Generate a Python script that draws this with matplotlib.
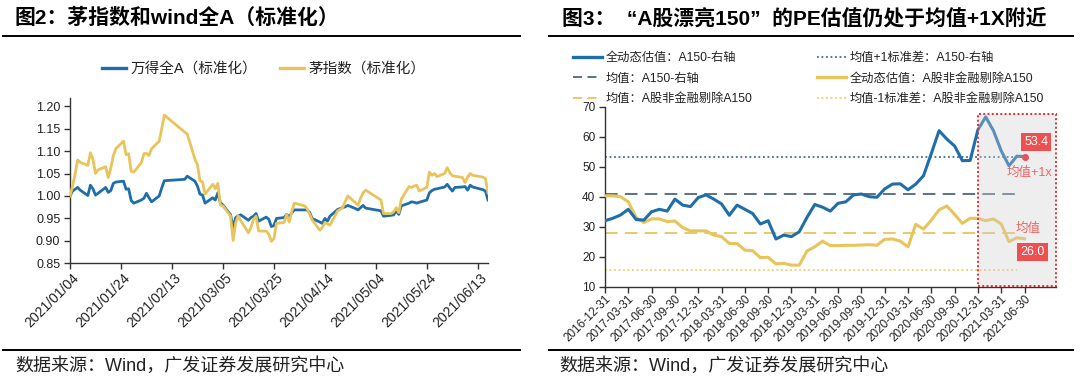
import numpy as np
import pandas as pd
import matplotlib
matplotlib.use("Agg")
import matplotlib.pyplot as plt
import matplotlib.dates as mdates
import matplotlib.ticker as mticker
import matplotlib.transforms as mtransforms
from matplotlib.patches import Rectangle
from matplotlib.lines import Line2D

plt.rcParams['font.family'] = ['Liberation Sans', 'Noto Sans CJK SC']

# ---------------- left chart data ----------------
trade_dates = [
    "2021-01-04", "2021-01-05", "2021-01-06", "2021-01-07", "2021-01-08", "2021-01-11", "2021-01-12",
    "2021-01-13", "2021-01-14", "2021-01-15", "2021-01-18", "2021-01-19", "2021-01-20", "2021-01-21",
    "2021-01-22", "2021-01-25", "2021-01-26", "2021-01-27", "2021-01-28", "2021-01-29",
    "2021-02-01", "2021-02-02", "2021-02-03", "2021-02-04", "2021-02-05", "2021-02-08", "2021-02-09",
    "2021-02-10", "2021-02-18", "2021-02-19", "2021-02-22", "2021-02-23", "2021-02-24", "2021-02-25",
    "2021-02-26",
    "2021-03-01", "2021-03-02", "2021-03-03", "2021-03-04", "2021-03-05", "2021-03-08", "2021-03-09",
    "2021-03-10", "2021-03-11", "2021-03-12", "2021-03-15", "2021-03-16", "2021-03-17", "2021-03-18",
    "2021-03-19", "2021-03-22", "2021-03-23", "2021-03-24", "2021-03-25", "2021-03-26", "2021-03-29",
    "2021-03-30", "2021-03-31",
    "2021-04-01", "2021-04-02", "2021-04-06", "2021-04-07", "2021-04-08", "2021-04-09", "2021-04-12",
    "2021-04-13", "2021-04-14", "2021-04-15", "2021-04-16", "2021-04-19", "2021-04-20", "2021-04-21",
    "2021-04-22", "2021-04-23", "2021-04-26", "2021-04-27", "2021-04-28", "2021-04-29", "2021-04-30",
    "2021-05-06", "2021-05-07", "2021-05-10", "2021-05-11", "2021-05-12", "2021-05-13", "2021-05-14",
    "2021-05-17", "2021-05-18", "2021-05-19", "2021-05-20", "2021-05-21", "2021-05-24", "2021-05-25",
    "2021-05-26", "2021-05-27", "2021-05-28", "2021-05-31",
    "2021-06-01", "2021-06-02", "2021-06-03", "2021-06-04", "2021-06-07", "2021-06-08", "2021-06-09",
    "2021-06-10", "2021-06-11", "2021-06-15", "2021-06-16", "2021-06-17",
]

wind_all_a = [
    1.000, 1.011, 1.015, 1.019, 1.013, 1.001, 1.024, 1.016, 1.002, 1.006, 1.019, 1.008, 1.012, 1.028,
    1.031, 1.033, 1.015, 1.016, 0.990, 0.984,
    0.991, 0.995, 1.006, 0.996, 0.987, 1.000, 1.018, 1.034, 1.037, 1.044, 1.033, 1.022, 1.004, 1.002,
    0.984,
    0.996, 0.991, 1.007, 0.985, 0.980, 0.958, 0.930, 0.952, 0.956, 0.958, 0.946, 0.952, 0.955, 0.961,
    0.944, 0.953, 0.948, 0.932, 0.934, 0.950, 0.952, 0.959, 0.954,
    0.962, 0.969, 0.969, 0.969, 0.964, 0.950, 0.942, 0.939, 0.950, 0.944, 0.955, 0.970, 0.972, 0.974,
    0.976, 0.979, 0.972, 0.969, 0.974, 0.979, 0.973,
    0.967, 0.955, 0.957, 0.958, 0.967, 0.959, 0.978, 0.984, 0.987, 0.986, 0.984, 0.986, 0.991, 1.007,
    1.012, 1.015, 1.016, 1.020,
    1.026, 1.018, 1.011, 1.019, 1.020, 1.021, 1.013, 1.024, 1.020, 1.014, 1.011, 0.991,
]

mao_index = [
    1.000, 1.022, 1.048, 1.080, 1.075, 1.068, 1.096, 1.082, 1.050, 1.058, 1.065, 1.041, 1.062, 1.090,
    1.105, 1.122, 1.092, 1.094, 1.055, 1.053,
    1.074, 1.094, 1.095, 1.090, 1.105, 1.122, 1.150, 1.180, 1.142, 1.138, 1.082, 1.070, 1.034, 1.031,
    1.004,
    1.026, 1.016, 1.028, 0.980, 0.978, 0.955, 0.901, 0.940, 0.956, 0.945, 0.918, 0.930, 0.948, 0.955,
    0.922, 0.922, 0.915, 0.899, 0.905, 0.939, 0.941, 0.959, 0.942,
    0.965, 0.984, 0.978, 0.972, 0.960, 0.947, 0.924, 0.930, 0.941, 0.938, 0.935, 0.967, 0.970, 0.974,
    0.988, 1.000, 0.985, 0.979, 0.995, 1.007, 1.013,
    0.991, 0.961, 0.961, 0.965, 0.974, 0.963, 0.993, 1.021, 1.019, 1.022, 1.024, 1.011, 1.019, 1.053,
    1.046, 1.050, 1.043, 1.050,
    1.063, 1.052, 1.045, 1.044, 1.041, 1.030, 1.042, 1.050, 1.046, 1.042, 1.039, 1.007,
]

left_labels = ["万得全A（标准化）", "茅指数（标准化）"]
left_yticks = [0.85, 0.90, 0.95, 1.00, 1.05, 1.10, 1.15, 1.20]

# ---------------- right chart data ----------------
month_ends = pd.date_range("2016-12-31", "2021-06-30", freq="ME")
pe_a150 = [
    32.0, 32.8, 33.9, 35.8, 32.4, 32.2, 35.0, 35.8, 35.2, 39.2, 37.2, 36.7, 39.7, 40.6, 39.2, 37.6,
    33.8, 37.2, 35.8, 34.4, 30.9, 32.0, 25.9, 27.2, 26.7, 28.3, 33.1, 37.4, 36.5, 35.2, 37.8, 38.3,
    40.6, 40.9, 40.0, 39.8, 42.6, 44.2, 44.3, 42.3, 44.2, 47.0, 54.4, 62.0, 59.2, 56.9, 52.0, 52.1,
    62.3, 66.6, 62.0, 55.3, 50.3, 53.5, 53.4,
]
pe_nonfin_ex150 = [
    40.3, 40.3, 40.0, 38.3, 33.1, 31.4, 32.6, 32.6, 31.7, 31.9, 29.7, 28.6, 28.6, 28.6, 27.2, 26.7,
    24.4, 24.4, 22.2, 22.0, 19.7, 19.8, 17.6, 17.8, 17.2, 17.2, 21.9, 23.3, 25.2, 23.7, 23.7, 23.8,
    23.8, 23.9, 24.0, 23.8, 25.8, 25.9, 25.2, 23.3, 30.8, 29.2, 32.2, 35.6, 36.9, 34.1, 31.1, 32.8,
    32.8, 32.0, 32.6, 30.9, 25.0, 26.3, 26.0,
]
a150_mean = 41.0
a150_plus1 = 53.2
nonfin_mean = 27.8
nonfin_minus1 = 15.6
right_labels_col1 = ["全动态估值：A150-右轴", "均值：A150-右轴", "均值：A股非金融剔除A150"]
right_labels_col2 = ["均值+1标准差：A150-右轴", "全动态估值：A股非金融剔除A150", "均值-1标准差：A股非金融剔除A150"]

# ---------------- styling ----------------
BLUE = "#1f6eaa"
YEL = "#e8c45a"
DASHBLUE = "#4d6782"
DOTBLUE = "#3d6b99"
DOTYEL = "#efcf6c"
RED = "#ec5050"
TXT = "#222222"

W, H = 1080, 388
fig = plt.figure(figsize=(W / 100, H / 100), dpi=100)


def fx(px):
    return px / W


def fy(py):
    return 1 - py / H


def hline(x0, x1, y, lw=1.4):
    fig.add_artist(Line2D([fx(x0), fx(x1)], [fy(y), fy(y)], color="black", lw=lw,
                          transform=fig.transFigure))


# titles and frame lines
fig.text(fx(15), fy(18), "图2：茅指数和wind全A（标准化）", fontsize=15, fontweight="bold",
         va="center", ha="left", color="black")
fig.text(fx(562), fy(18), "图3：  “A股漂亮150”  的PE估值仍处于均值+1X附近", fontsize=15,
         fontweight="bold", va="center", ha="left", color="black")
hline(3, 520, 36)
hline(549, 1073, 36)
hline(3, 520, 350)
hline(549, 1073, 350)
fig.text(fx(15), fy(366), "数据来源：Wind，广发证券发展研究中心", fontsize=13, va="center",
         ha="left", color=TXT)
fig.text(fx(559), fy(366), "数据来源：Wind，广发证券发展研究中心", fontsize=13, va="center",
         ha="left", color=TXT)

# ---------------- left axes ----------------
L_X0, L_X1, L_TOP, L_BOT = 70, 488, 98, 263.4
axL = fig.add_axes([fx(L_X0), fy(L_BOT), fx(L_X1 - L_X0), (L_BOT - L_TOP) / H])
dl = pd.to_datetime(trade_dates)
axL.plot(dl, wind_all_a, color=BLUE, lw=2.0, zorder=3)
axL.plot(dl, mao_index, color=YEL, lw=2.0, zorder=4)
axL.set_ylim(0.85, 1.218)
axL.set_yticks(left_yticks)
axL.yaxis.set_major_formatter(mticker.FormatStrFormatter("%.2f"))
axL.set_xlim(pd.Timestamp("2021-01-04"), pd.Timestamp("2021-06-17"))
xt = pd.date_range("2021-01-04", "2021-06-13", freq="20D")
axL.set_xticks(xt)
axL.xaxis.set_major_formatter(mdates.DateFormatter("%Y/%m/%d"))
for s in ["top", "right"]:
    axL.spines[s].set_visible(False)
for s in ["left", "bottom"]:
    axL.spines[s].set_color("#333333")
    axL.spines[s].set_linewidth(1.0)
axL.tick_params(axis="both", direction="out", length=4, width=1, color="#333333")
axL.tick_params(axis="y", labelsize=9, labelcolor=TXT, pad=3)
axL.tick_params(axis="x", labelsize=10, labelcolor=TXT, pad=3)
offL = mtransforms.ScaledTranslation(0.07, -0.03, fig.dpi_scale_trans)
for lab in axL.get_xticklabels():
    lab.set_rotation(45)
    lab.set_ha("right")
    lab.set_va("center")
    lab.set_rotation_mode("anchor")
    lab.set_transform(lab.get_transform() + offL)

legL = fig.legend(
    handles=[Line2D([], [], color=BLUE, lw=2.4), Line2D([], [], color=YEL, lw=2.4)],
    labels=left_labels, loc="center left", bbox_to_anchor=(fx(102), fy(69)), ncol=2,
    frameon=False, fontsize=10.5, handlelength=1.65, handletextpad=0.28, columnspacing=1.6,
    borderpad=0, borderaxespad=0)
for t in legL.get_texts():
    t.set_color(TXT)

# ---------------- right axes ----------------
R_X0, R_X1, R_TOP, R_BOT = 605, 1056, 106.7, 286.7
axR = fig.add_axes([fx(R_X0), fy(R_BOT), fx(R_X1 - R_X0), (R_BOT - R_TOP) / H])
xi = np.arange(len(month_ends))
axR.set_xlim(0, 58.05)
axR.set_ylim(10, 70)

last = len(xi) - 2
axR.plot([0, last], [a150_mean, a150_mean], color=DASHBLUE, lw=1.3, dashes=(7, 4), zorder=2)
axR.plot([0, last + 1], [a150_plus1, a150_plus1], color=DOTBLUE, lw=1.3, ls=(0, (1, 1.5)), zorder=2)
axR.plot([0, last], [nonfin_mean, nonfin_mean], color=YEL, lw=1.3, dashes=(7, 4), zorder=2)
axR.plot([0, last], [nonfin_minus1, nonfin_minus1], color=DOTYEL, lw=1.3, ls=(0, (1, 1.5)), zorder=2)
axR.plot(xi, pe_nonfin_ex150, color=YEL, lw=2.2, zorder=3, solid_joinstyle="round")
axR.plot(xi, pe_a150, color=BLUE, lw=2.2, zorder=4, solid_joinstyle="round")

# highlighted recent region
axR.add_patch(Rectangle((48, 10.3), 10, 57.3, facecolor="#cfcfcf", alpha=0.35,
                        edgecolor="none", zorder=5, clip_on=False))
axR.add_patch(Rectangle((48, 10.3), 10, 57.3, fill=False, edgecolor="#e03030", lw=1.4,
                        ls=(0, (1, 1.2)), zorder=6, clip_on=False))
axR.plot(xi[-1], pe_a150[-1], "o", color="#e5505f", ms=4, zorder=7)
axR.text(55.5, 58.3, f"{pe_a150[-1]:.1f}", color="white", fontsize=9, ha="center", va="center",
         zorder=8, bbox=dict(boxstyle="square,pad=0.25", fc=RED, ec="none"))
axR.text(55.0, 21.6, f"{pe_nonfin_ex150[-1]:.1f}", color="white", fontsize=9, ha="center",
         va="center", zorder=8, bbox=dict(boxstyle="square,pad=0.25", fc=RED, ec="none"))
axR.text(54.6, 48.0, "均值+1x", color="#ee6464", fontsize=9, ha="center", va="center",
         zorder=8)
axR.text(54.4, 29.4, "均值", color="#ee6464", fontsize=9, ha="center", va="center", zorder=8)

axR.set_yticks(np.arange(10, 71, 10))
tick_idx = xi[::3]
axR.set_xticks(tick_idx)
axR.set_xticklabels([month_ends[i].strftime("%Y-%m-%d") for i in tick_idx])
for s in ["top", "right"]:
    axR.spines[s].set_visible(False)
for s in ["left", "bottom"]:
    axR.spines[s].set_color("#333333")
    axR.spines[s].set_linewidth(1.0)
axR.tick_params(axis="both", direction="out", length=4, width=1, color="#333333")
axR.tick_params(axis="y", labelsize=8.5, labelcolor=TXT, pad=3)
axR.tick_params(axis="x", labelsize=8.5, labelcolor=TXT, pad=2)
offR = mtransforms.ScaledTranslation(0.04, -0.02, fig.dpi_scale_trans)
for lab in axR.get_xticklabels():
    lab.set_rotation(45)
    lab.set_ha("right")
    lab.set_va("center")
    lab.set_rotation_mode("anchor")
    lab.set_transform(lab.get_transform() + offR)

h1 = [Line2D([], [], color=BLUE, lw=2.4),
      Line2D([], [], color=DASHBLUE, lw=1.3, dashes=(5, 3)),
      Line2D([], [], color=YEL, lw=1.3, dashes=(5, 3))]
h2 = [Line2D([], [], color=DOTBLUE, lw=1.3, ls=(0, (1, 1.5))),
      Line2D([], [], color=YEL, lw=2.4),
      Line2D([], [], color=DOTYEL, lw=1.3, ls=(0, (1, 1.5)))]
common = dict(loc="upper left", frameon=False, fontsize=8.8, handlelength=2.4, handletextpad=0.3,
              labelspacing=0.7, borderpad=0, borderaxespad=0)
lg1 = fig.legend(handles=h1, labels=right_labels_col1, bbox_to_anchor=(fx(573), fy(52)), **common)
lg2 = fig.legend(handles=h2, labels=right_labels_col2, bbox_to_anchor=(fx(817), fy(52)), **common)
for lg in (lg1, lg2):
    for t in lg.get_texts():
        t.set_color(TXT)

fig.savefig("out.png", dpi=100, facecolor="white")
